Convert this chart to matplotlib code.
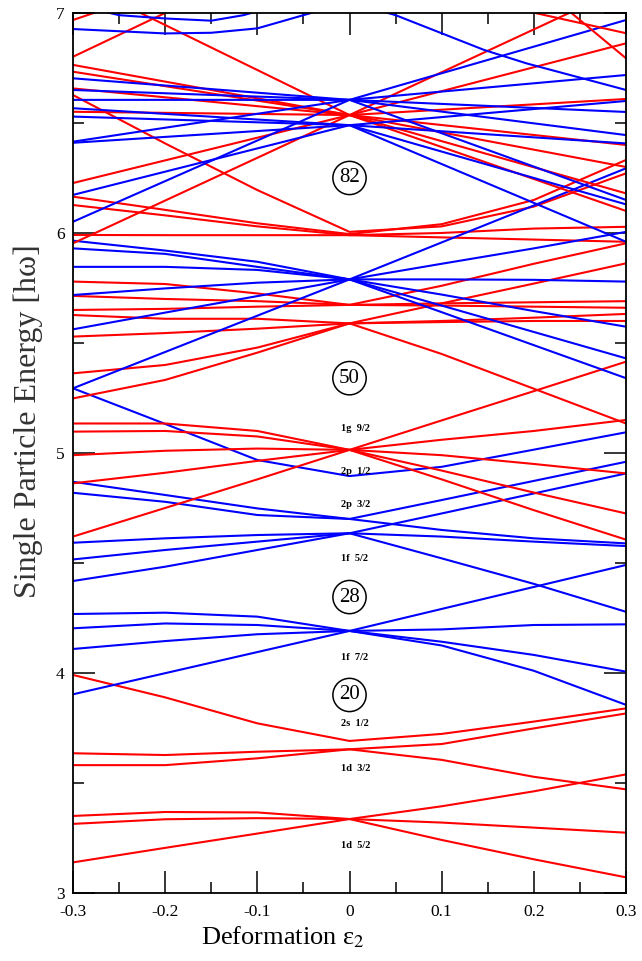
import numpy as np
import matplotlib
matplotlib.use("Agg")
from matplotlib import pyplot as plt
from matplotlib.ticker import MultipleLocator

plt.rcParams['font.family'] = ['Liberation Serif', 'DejaVu Serif']
plt.rcParams['mathtext.fontset'] = 'stix'

# deformation grid the levels were read on
x7 = [-0.3, -0.2, -0.1, 0.0, 0.1, 0.2, 0.3]
x3 = [-0.3, 0.0, 0.3]

# N=2 shell (red): 1d5/2, 2s1/2, 1d3/2
n2_levels = [
    [3.350, 3.368, 3.366, 3.336, 3.241, 3.153, 3.071],
    [3.314, 3.335, 3.340, 3.336, 3.320, 3.297, 3.274],
    [3.139, 3.205, 3.270, 3.336, 3.394, 3.462, 3.539],
    [3.991, 3.889, 3.771, 3.691, 3.723, 3.779, 3.839],
    [3.635, 3.627, 3.642, 3.653, 3.677, 3.748, 3.816],
    [3.581, 3.581, 3.612, 3.653, 3.605, 3.528, 3.471],
]

# N=3 shell (blue): 1f7/2, 2p3/2, 1f5/2, 2p1/2
n3_levels = [
    [4.268, 4.274, 4.256, 4.191, 4.125, 4.010, 3.855],
    [4.203, 4.225, 4.218, 4.191, 4.142, 4.082, 4.006],
    [4.109, 4.145, 4.176, 4.191, 4.198, 4.218, 4.221],
    [3.903, 3.999, 4.095, 4.191, 4.291, 4.391, 4.491],
    [4.869, 4.809, 4.748, 4.700, 4.786, 4.873, 4.960],
    [4.819, 4.778, 4.718, 4.700, 4.650, 4.612, 4.589],
    [4.592, 4.612, 4.627, 4.635, 4.725, 4.816, 4.907],
    [4.516, 4.559, 4.597, 4.635, 4.620, 4.597, 4.577],
    [4.418, 4.483, 4.559, 4.635, 4.521, 4.405, 4.278],
    [5.294, 5.132, 4.968, 4.895, 4.937, 5.015, 5.094],
]

# N=4 shell (red): 1g9/2, 1g7/2, 2d5/2
n4_levels = [
    [5.134, 5.134, 5.100, 5.014, 4.880, 4.740, 4.606],
    [5.097, 5.100, 5.075, 5.014, 4.920, 4.820, 4.725],
    [4.990, 5.010, 5.020, 5.014, 4.990, 4.950, 4.907],
    [4.862, 4.910, 4.964, 5.014, 5.060, 5.100, 5.150],
    [4.620, 4.750, 4.880, 5.014, 5.148, 5.281, 5.415],
    [5.248, 5.332, 5.456, 5.589, 5.680, 5.770, 5.862],
    [5.362, 5.400, 5.479, 5.589, 5.600, 5.615, 5.632],
    [5.529, 5.545, 5.565, 5.589, 5.595, 5.600, 5.600],
    [5.627, 5.610, 5.610, 5.589, 5.450, 5.292, 5.134],
    [5.779, 5.768, 5.725, 5.673, 5.760, 5.860, 5.953],
    [5.714, 5.700, 5.690, 5.673, 5.680, 5.685, 5.690],
    [5.650, 5.655, 5.665, 5.673, 5.670, 5.665, 5.660],
]

# N=4 upper levels (red): 3s1/2, 2d3/2
n4_top = [
    [6.627, 6.407, 6.195, 6.005, 6.030, 6.120, 6.271],
    [6.165, 6.105, 6.044, 5.995, 6.040, 6.150, 6.332],
    [6.127, 6.080, 6.030, 5.990, 6.000, 6.020, 6.028],
    [5.991, 5.990, 5.990, 5.990, 5.980, 5.970, 5.960],
]

# N=5 intruder 1h11/2 (blue)
h11_levels = [
    [5.965, 5.920, 5.869, 5.789, 5.640, 5.490, 5.340],
    [5.930, 5.905, 5.846, 5.789, 5.670, 5.550, 5.430],
    [5.846, 5.846, 5.832, 5.789, 5.720, 5.645, 5.574],
    [5.718, 5.748, 5.774, 5.789, 5.789, 5.787, 5.779],
    [5.562, 5.638, 5.713, 5.789, 5.860, 5.930, 6.005],
    [5.294, 5.459, 5.624, 5.789, 5.957, 6.125, 6.294],
]

# N=6 intruder 1i13/2 (red), values at x3
i13_levels = [
    [5.953, 6.536, 7.120],
    [6.227, 6.536, 6.862],
    [6.551, 6.536, 6.609],
    [6.657, 6.536, 6.400],
    [6.733, 6.536, 6.300],
    [6.764, 6.536, 6.180],
    [7.150, 6.536, 6.100],
]

# rest of N=5 (blue), values at x3
n5_levels = [
    [6.051, 6.605, 6.968],
    [6.415, 6.605, 6.718],
    [6.605, 6.605, 6.550],
    [6.650, 6.605, 6.445],
    [6.703, 6.605, 6.150],
    [6.173, 6.490, 6.600],
    [6.410, 6.490, 6.407],
    [6.529, 6.490, 6.130],
    [6.567, 6.490, 5.960],
]

# pieces of higher levels entering at the top
top_red_x = [[-0.3, -0.2], [-0.3, -0.2, -0.1], [0.18, 0.3], [0.235, 0.3]]
top_red_e = [[6.968, 7.11], [6.801, 7.0, 7.2], [7.02, 6.908], [7.02, 6.794]]
top_blue_x = [[-0.28, -0.25, -0.2, -0.15, -0.115, -0.09],
              [-0.3, -0.2, -0.15, -0.1, -0.05, 0.0, 0.05, 0.146, 0.192, 0.3]]
top_blue_e = [[7.02, 6.99, 6.975, 6.965, 6.99, 7.02],
              [6.927, 6.907, 6.91, 6.93, 6.99, 7.05, 6.99, 6.832, 6.771, 6.65]]

magic = ['82', '50', '28', '20']
magic_e = [6.25, 5.34, 4.345, 3.9]
orbit_labels = ['1g  9/2', '2p  1/2', '2p  3/2', '1f  5/2', '1f  7/2',
                '2s  1/2', '1d  3/2', '1d  5/2']
orbit_e = [5.11, 4.914, 4.764, 4.52, 4.07, 3.77, 3.568, 3.218]

RED = '#ff0000'
BLUE = '#0000ff'
LW = 1.5

fig = plt.figure(figsize=(6.42, 9.61), dpi=100)
ax = fig.add_axes([0.1137, 0.0708, 0.8614, 0.9157])

for lev in n2_levels:
    ax.plot(x7, lev, color=RED, lw=LW)
for lev in n3_levels:
    ax.plot(x7, lev, color=BLUE, lw=LW)
for lev in n4_levels + n4_top:
    ax.plot(x7, lev, color=RED, lw=LW)
for lev in h11_levels:
    ax.plot(x7, lev, color=BLUE, lw=LW)
for lev in i13_levels:
    ax.plot(x3, lev, color=RED, lw=LW)
for lev in n5_levels:
    ax.plot(x3, lev, color=BLUE, lw=LW)
for xs, es in zip(top_red_x, top_red_e):
    ax.plot(xs, es, color=RED, lw=LW)
for xs, es in zip(top_blue_x, top_blue_e):
    ax.plot(xs, es, color=BLUE, lw=LW)

# circled magic numbers and spherical orbital labels
for txt, e in zip(magic, magic_e):
    ax.text(0.0, e, txt, ha='center', va='center', fontsize=15,
            bbox=dict(boxstyle='circle,pad=0.3', fc='white', ec='black', lw=1.1))
for txt, e in zip(orbit_labels, orbit_e):
    ax.text(-0.009, e, txt, ha='left', va='center', fontsize=7.5, fontweight='bold')

ax.set_xlim(-0.3, 0.3)
ax.set_ylim(3, 7)
ax.xaxis.set_major_locator(MultipleLocator(0.1))
ax.xaxis.set_minor_locator(MultipleLocator(0.05))
ax.yaxis.set_major_locator(MultipleLocator(1))
ax.yaxis.set_minor_locator(MultipleLocator(0.5))
ax.tick_params(which='both', direction='in', top=True, right=True, width=1.1,
               labelsize=12.5)
ax.tick_params(axis='x', pad=8)
ax.tick_params(axis='y', pad=6)
ax.tick_params(which='major', length=16)
ax.tick_params(which='minor', length=8)
ax.set_xticks([-0.3, -0.2, -0.1, 0.0, 0.1, 0.2, 0.3])
ax.set_xticklabels(['-0.3', '-0.2', '-0.1', '0', '0.1', '0.2', '0.3'])
for sp in ax.spines.values():
    sp.set_linewidth(1.3)

ax.set_xlabel('Deformation ε$_2$', fontsize=19)
ax.xaxis.set_label_coords(0.38, -0.036)
ax.set_ylabel('Single Particle Energy [hω]', fontsize=23, color='#333333')
ax.yaxis.set_label_coords(-0.054, 0.536)

fig.savefig('out.png', dpi=100)
